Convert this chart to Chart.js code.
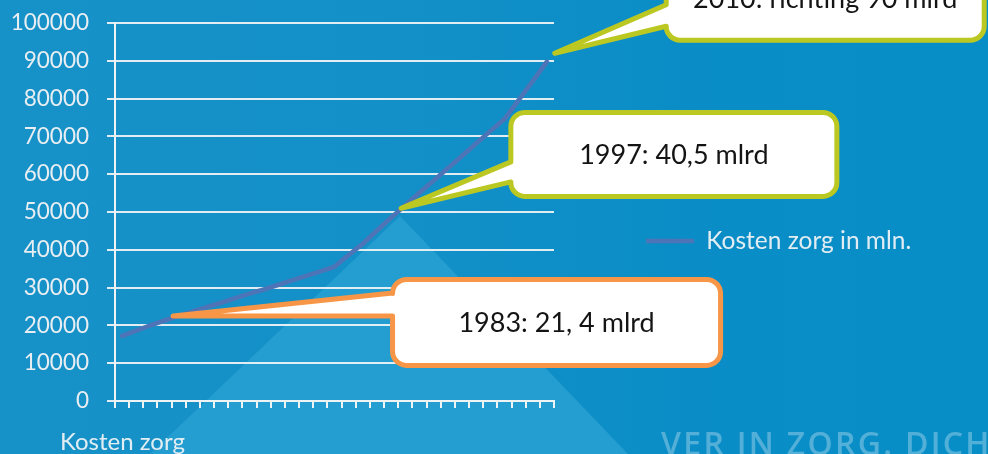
<!DOCTYPE html>
<html>
<head>
<meta charset="utf-8">
<script src="https://cdn.jsdelivr.net/npm/chart.js@4.4.1/dist/chart.umd.min.js"></script>
<style>
html,body{margin:0;padding:0;background:#1692c8;overflow:hidden}
#wrap{width:988px;height:454px;position:relative}
canvas{display:block}
</style>
</head>
<body>
<div id="wrap"><canvas id="c" width="988" height="454"></canvas></div>
<script>
// ---------------- data ----------------
const years = ['1980','1981','1982','1983','1984','1985','1986','1987','1988','1989',
               '1990','1991','1992','1993','1994','1995','1996','1997','1998','1999',
               '2000','2001','2002','2003','2004','2005','2006','2007','2008','2009','2010'];
const kostenZorg = [17200,18600,20000,21300,22500,23700,24900,26000,27200,28400,
                    29500,30700,31900,33100,34300,35500,38600,41600,45100,48500,
                    51800,55100,58300,61600,64800,68100,71400,74600,79600,84600,89800];
const yTicks = [0,10000,20000,30000,40000,50000,60000,70000,80000,90000,100000];
const seriesName = 'Kosten zorg in mln.';
const axisCaption = 'Kosten zorg';
const calloutTexts = ['1983: 21, 4 mlrd','1997: 40,5 mlrd','2010: richting 90 mlrd'];
const calloutIndex = [3.6, 19.7, 30.55];
const calloutValue = [22500, 51000, 92000];
const watermark = 'VER IN ZORG. DICHTBIJ';

// ---------------- layout / style ----------------
const FONT = 'Lato, "Open Sans", "DejaVu Sans", sans-serif';
const W = 988, H = 454;
const AREA = {left:115, right:554, top:23, bottom:401};
const PAD_RIGHT = 20;
const LEGEND_W = W - PAD_RIGHT - AREA.right;
const calloutStyle = [
  {color:'#F79646', dx:219.5, dy:-36.5, w:328, h:86, base:[-23, 0]},
  {color:'#BCC822', dx:109.8, dy:-95.8, w:326, h:84, base:[-46.3, -26.3]},
  {color:'#BCC822', dx:111.5, dy:-97,   w:318, h:84, base:[-48.5, -25.5]}
];

const bgPlugin = {
  id:'bg',
  beforeDraw(chart){
    const ctx = chart.ctx;
    ctx.save();
    const g = ctx.createLinearGradient(0,0,W,0);
    g.addColorStop(0,'#1792c8');
    g.addColorStop(0.4,'#1390c8');
    g.addColorStop(0.7,'#0a8dc6');
    g.addColorStop(1,'#078ec7');
    ctx.fillStyle = g;
    ctx.fillRect(0,0,W,H);
    // lighter triangle
    ctx.beginPath();
    ctx.moveTo(400,216);
    ctx.lineTo(150,H);
    ctx.lineTo(628,H);
    ctx.closePath();
    ctx.fillStyle = '#249dd0';
    ctx.fill();
    // watermark
    ctx.font = '600 32px "Open Sans", Lato, sans-serif';
    if ('letterSpacing' in ctx) ctx.letterSpacing = '2.3px';
    ctx.fillStyle = 'rgba(255,255,255,0.30)';
    ctx.textAlign = 'left';
    ctx.textBaseline = 'alphabetic';
    ctx.fillText(watermark, 661, 455);
    ctx.restore();
  }
};

function drawCallout(ctx, tip, st, text){
  const x = tip.x + st.dx, y = tip.y + st.dy, w = st.w, h = st.h, r = 14;
  const b0 = tip.y + st.base[0];
  const b1 = Math.min(tip.y + st.base[1], y + h - r);
  ctx.save();
  ctx.beginPath();
  ctx.moveTo(x + r, y);
  ctx.lineTo(x + w - r, y);
  ctx.arcTo(x + w, y, x + w, y + r, r);
  ctx.lineTo(x + w, y + h - r);
  ctx.arcTo(x + w, y + h, x + w - r, y + h, r);
  ctx.lineTo(x + r, y + h);
  ctx.arcTo(x, y + h, x, y + h - r, r);
  ctx.lineTo(x, b1);
  ctx.lineTo(tip.x, tip.y);
  ctx.lineTo(x, b0);
  ctx.lineTo(x, y + r);
  ctx.arcTo(x, y, x + r, y, r);
  ctx.closePath();
  ctx.fillStyle = '#ffffff';
  ctx.fill();
  ctx.lineWidth = 5;
  ctx.lineJoin = 'round';
  ctx.lineCap = 'round';
  ctx.strokeStyle = st.color;
  ctx.stroke();
  ctx.fillStyle = '#141414';
  ctx.font = '27px ' + FONT;
  ctx.textAlign = 'center';
  ctx.textBaseline = 'middle';
  ctx.fillText(text, x + w/2, y + h/2 + 1);
  ctx.restore();
}

const overlayPlugin = {
  id:'overlay',
  beforeLayout(chart){
    const lg = chart.legend;
    if (lg && !lg._wPatched){
      const orig = lg.update;
      lg.update = function(maxW, maxH, margins){
        orig.call(this, 4000, maxH, margins);
        this.width = LEGEND_W;
      };
      lg._wPatched = true;
    }
  },
  afterDraw(chart){
    const ctx = chart.ctx;
    const xs = chart.scales.x, ys = chart.scales.y;
    // axis caption
    ctx.save();
    ctx.font = '24px ' + FONT;
    ctx.fillStyle = '#e2edf3';
    ctx.textAlign = 'left';
    ctx.textBaseline = 'alphabetic';
    ctx.fillText(axisCaption, 60, 450);
    ctx.restore();
    for (let i = 0; i < calloutTexts.length; i++){
      const tip = {x: xs.getPixelForValue(calloutIndex[i]), y: ys.getPixelForValue(calloutValue[i])};
      drawCallout(ctx, tip, calloutStyle[i], calloutTexts[i]);
    }
  }
};

new Chart(document.getElementById('c'), {
  type:'line',
  data:{
    labels: years,
    datasets:[{
      label: seriesName,
      data: kostenZorg,
      borderColor:'#4e74b8',
      backgroundColor:'#4e74b8',
      borderWidth:4.6,
      pointRadius:0,
      pointHoverRadius:0,
      tension:0,
      fill:false,
      borderCapStyle:'round',
      borderJoinStyle:'round'
    }]
  },
  options:{
    responsive:false,
    animation:false,
    devicePixelRatio:1,
    layout:{padding:{top:AREA.top, left:0, right:PAD_RIGHT, bottom:0}},
    plugins:{
      tooltip:{enabled:false},
      title:{display:false},
      legend:{
        display:true,
        position:'right',
        align:'center',
        title:{display:true, text:'', font:{size:5, lineHeight:1}, padding:0},
        labels:{
          usePointStyle:true,
          pointStyle:'line',
          pointStyleWidth:48,
          padding:92,
          color:'#e2edf3',
          font:{family:FONT, size:24.5}
        }
      }
    },
    scales:{
      x:{
        type:'category',
        offset:true,
        ticks:{display:false},
        grid:{display:true, drawOnChartArea:false, drawTicks:true, tickLength:7, color:'#eef3f6', lineWidth:2, offset:true},
        border:{display:true, color:'#eef3f6', width:2},
        afterFit(s){ s.height = H - AREA.bottom; s.paddingLeft = 0; s.paddingRight = 0; }
      },
      y:{
        min:0, max:100000,
        afterBuildTicks(s){ s.ticks = yTicks.map(v => ({value:v})); },
        afterFit(s){ s.width = AREA.left; s.paddingTop = 0; s.paddingBottom = 0; },
        ticks:{color:'#e8eef2', font:{family:FONT, size:22.5}, padding:18, callback:(v)=>String(v)},
        grid:{color:'rgba(236,242,245,0.95)', lineWidth:2, tickLength:8, drawTicks:true},
        border:{display:true, color:'#eef3f6', width:2}
      }
    }
  },
  plugins:[bgPlugin, overlayPlugin]
});
</script>
</body>
</html>
